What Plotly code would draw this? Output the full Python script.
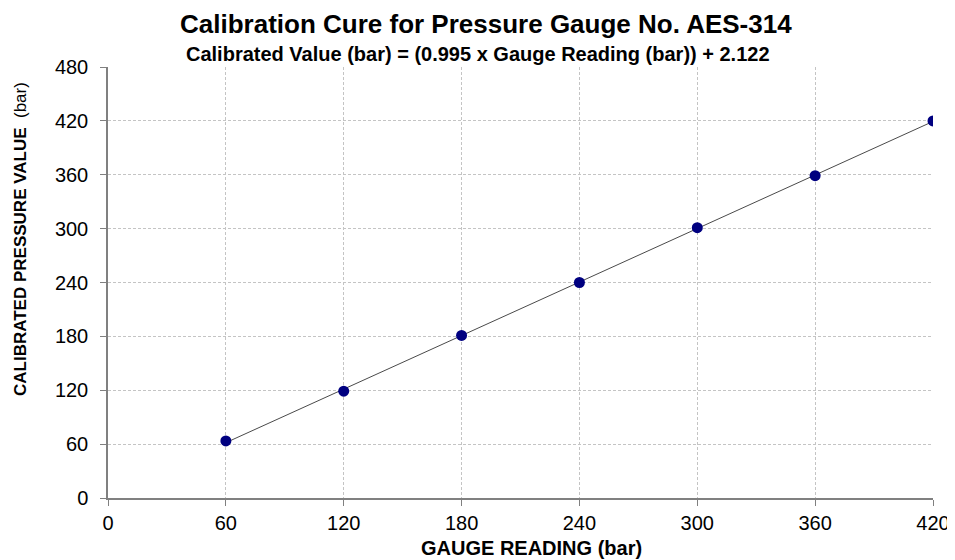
import numpy as np
import plotly.graph_objects as go

gauge_reading = [60, 120, 180, 240, 300, 360, 420]
calibrated_value = [63.5, 119, 181, 240, 301, 359, 420]
x_ticks = [0, 60, 120, 180, 240, 300, 360, 420]
y_ticks = [0, 60, 120, 180, 240, 300, 360, 420, 480]

slope, intercept = np.polyfit(gauge_reading, calibrated_value, 1)
fit_x = [min(gauge_reading), max(gauge_reading)]
fit_y = [slope * v + intercept for v in fit_x]

# page body has an 8px margin; work in window pixels and convert
OFF = 8
W, H = 955 - OFF, 560 - OFF
L, R, T, B = 108 - OFF, 933 - OFF, 67 - OFF, 498 - OFF
PW, PH = R - L, B - T


def px(xw):
    return (xw - OFF - L) / PW


def py(yw):
    return (B - (yw - OFF)) / PH


fig = go.Figure()
fig.add_trace(go.Scatter(x=fit_x, y=fit_y, mode="lines",
                         line=dict(color="#4a4a4a", width=1), hoverinfo="skip"))
fig.add_trace(go.Scatter(x=gauge_reading, y=calibrated_value, mode="markers",
                         marker=dict(color="#000080", size=11, symbol="circle")))

FONT = "Liberation Sans, Arial"
axis_common = dict(showline=True, linecolor="#808080", linewidth=1.5,
                   ticks="outside", ticklen=6, tickcolor="#808080",
                   showgrid=True, gridcolor="#c4c4c4", griddash="3px,2px", gridwidth=1,
                   zeroline=False, mirror=False,
                   tickfont=dict(family=FONT, size=20, color="black"))

fig.update_layout(
    width=W, height=H,
    paper_bgcolor="white", plot_bgcolor="white",
    showlegend=False,
    margin=dict(l=L, r=W - R, t=T, b=H - B, autoexpand=False),
    xaxis=dict(range=[0, 420], tickvals=x_ticks, **axis_common),
    yaxis=dict(range=[0, 480], tickvals=y_ticks, ticklabelstandoff=8, **axis_common),
)

fig.add_annotation(text="<b>Calibration Cure for Pressure Gauge No. AES-314</b>", xref="paper", yref="paper",
                   x=px(486), y=py(24), xanchor="center", yanchor="middle", showarrow=False,
                   font=dict(family=FONT, size=26, color="black"))
fig.add_annotation(text="<b>Calibrated Value (bar) = (0.995 x Gauge Reading (bar)) + 2.122</b>",
                   xref="paper", yref="paper",
                   x=px(478), y=py(54), xanchor="center", yanchor="middle", showarrow=False,
                   font=dict(family=FONT, size=20, color="black"))
fig.add_annotation(text="<b>GAUGE READING (bar)</b>", xref="paper", yref="paper",
                   x=px(531), y=py(548), xanchor="center", yanchor="middle", showarrow=False,
                   font=dict(family=FONT, size=20, color="black"))
fig.add_annotation(text="<b>CALIBRATED PRESSURE VALUE</b>  (bar)", xref="paper", yref="paper",
                   x=px(20), y=py(239), xanchor="center", yanchor="middle", showarrow=False,
                   textangle=-90,
                   font=dict(family="Liberation Sans Narrow, Arial Narrow, " + FONT, size=17, color="black"))

fig.write_html("out.html")
